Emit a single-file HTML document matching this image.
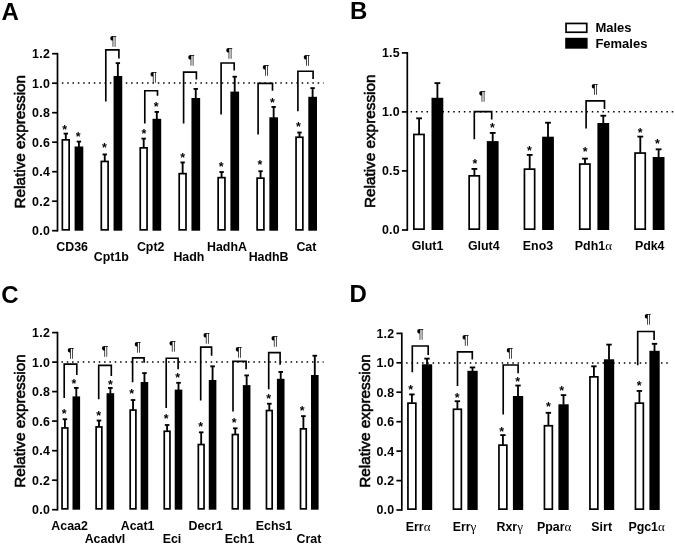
<!DOCTYPE html>
<html lang="en">
<head>
<meta charset="utf-8">
<title>Relative expression</title>
<style>
html,body{margin:0;padding:0;background:#fff;}
body{width:675px;height:546px;overflow:hidden;}
svg{display:block;font-family:"Liberation Sans", Arial, Helvetica, sans-serif;fill:#000;}
</style>
</head>
<body>
<svg width="675" height="546" viewBox="0 0 675 546">
<rect x="0" y="0" width="675" height="546" fill="#fff"/>
<text x="1.6" y="19.6" font-size="24" font-weight="bold" text-anchor="start" >A</text>
<text transform="translate(25.4 141.7) rotate(-90)" font-size="15.3" font-weight="normal" text-anchor="middle" stroke="#000" stroke-width="0.6" stroke-linejoin="round">Relative expression</text>
<line x1="61.85" y1="83.1" x2="323.6" y2="83.1" stroke="#000" stroke-width="1.5" stroke-dasharray="1.5 3.83"/>
<line x1="65.8" y1="133.62" x2="65.8" y2="139.5" stroke="#000" stroke-width="1.85" />
<line x1="63.6" y1="133.62" x2="68" y2="133.62" stroke="#000" stroke-width="1.85" />
<rect x="62.35" y="139.85" width="6.8" height="90" fill="#fff" stroke="#000" stroke-width="1.7"/>
<line x1="78.9" y1="141.62" x2="78.9" y2="147" stroke="#000" stroke-width="1.85" />
<line x1="76.7" y1="141.62" x2="81.1" y2="141.62" stroke="#000" stroke-width="1.85" />
<rect x="74.6" y="146.5" width="8.7" height="84.2" fill="#000"/>
<line x1="104.75" y1="154.43" x2="104.75" y2="161.1" stroke="#000" stroke-width="1.85" />
<line x1="102.55" y1="154.43" x2="106.95" y2="154.43" stroke="#000" stroke-width="1.85" />
<rect x="101.3" y="161.45" width="6.8" height="68.4" fill="#fff" stroke="#000" stroke-width="1.7"/>
<line x1="117.85" y1="63.12" x2="117.85" y2="76.5" stroke="#000" stroke-width="1.85" />
<line x1="115.65" y1="63.12" x2="120.05" y2="63.12" stroke="#000" stroke-width="1.85" />
<rect x="113.55" y="76" width="8.7" height="154.7" fill="#000"/>
<line x1="143.7" y1="138.62" x2="143.7" y2="147.5" stroke="#000" stroke-width="1.85" />
<line x1="141.5" y1="138.62" x2="145.9" y2="138.62" stroke="#000" stroke-width="1.85" />
<rect x="140.25" y="147.85" width="6.8" height="82" fill="#fff" stroke="#000" stroke-width="1.7"/>
<line x1="156.8" y1="111.92" x2="156.8" y2="119.3" stroke="#000" stroke-width="1.85" />
<line x1="154.6" y1="111.92" x2="159" y2="111.92" stroke="#000" stroke-width="1.85" />
<rect x="152.5" y="118.8" width="8.7" height="111.9" fill="#000"/>
<line x1="182.65" y1="162.43" x2="182.65" y2="173.3" stroke="#000" stroke-width="1.85" />
<line x1="180.45" y1="162.43" x2="184.85" y2="162.43" stroke="#000" stroke-width="1.85" />
<rect x="179.2" y="173.65" width="6.8" height="56.2" fill="#fff" stroke="#000" stroke-width="1.7"/>
<line x1="195.75" y1="88.92" x2="195.75" y2="98.5" stroke="#000" stroke-width="1.85" />
<line x1="193.55" y1="88.92" x2="197.95" y2="88.92" stroke="#000" stroke-width="1.85" />
<rect x="191.45" y="98" width="8.7" height="132.7" fill="#000"/>
<line x1="221.6" y1="172.03" x2="221.6" y2="177.3" stroke="#000" stroke-width="1.85" />
<line x1="219.4" y1="172.03" x2="223.8" y2="172.03" stroke="#000" stroke-width="1.85" />
<rect x="218.15" y="177.65" width="6.8" height="52.2" fill="#fff" stroke="#000" stroke-width="1.7"/>
<line x1="234.7" y1="76.72" x2="234.7" y2="92.1" stroke="#000" stroke-width="1.85" />
<line x1="232.5" y1="76.72" x2="236.9" y2="76.72" stroke="#000" stroke-width="1.85" />
<rect x="230.4" y="91.6" width="8.7" height="139.1" fill="#000"/>
<line x1="260.55" y1="171.23" x2="260.55" y2="177.8" stroke="#000" stroke-width="1.85" />
<line x1="258.35" y1="171.23" x2="262.75" y2="171.23" stroke="#000" stroke-width="1.85" />
<rect x="257.1" y="178.15" width="6.8" height="51.7" fill="#fff" stroke="#000" stroke-width="1.7"/>
<line x1="273.65" y1="106.92" x2="273.65" y2="117.8" stroke="#000" stroke-width="1.85" />
<line x1="271.45" y1="106.92" x2="275.85" y2="106.92" stroke="#000" stroke-width="1.85" />
<rect x="269.35" y="117.3" width="8.7" height="113.4" fill="#000"/>
<line x1="299.5" y1="132.53" x2="299.5" y2="136.9" stroke="#000" stroke-width="1.85" />
<line x1="297.3" y1="132.53" x2="301.7" y2="132.53" stroke="#000" stroke-width="1.85" />
<rect x="296.05" y="137.25" width="6.8" height="92.6" fill="#fff" stroke="#000" stroke-width="1.7"/>
<line x1="312.6" y1="88.12" x2="312.6" y2="97.3" stroke="#000" stroke-width="1.85" />
<line x1="310.4" y1="88.12" x2="314.8" y2="88.12" stroke="#000" stroke-width="1.85" />
<rect x="308.3" y="96.8" width="8.7" height="133.9" fill="#000"/>
<line x1="57.5" y1="52.85" x2="57.5" y2="231.55" stroke="#000" stroke-width="1.7" />
<line x1="52.1" y1="53.7" x2="57.5" y2="53.7" stroke="#000" stroke-width="1.7" />
<text x="50.1" y="58.1" font-size="12.4" font-weight="bold" text-anchor="end" letter-spacing="0.25">1.2</text>
<line x1="52.1" y1="83.2" x2="57.5" y2="83.2" stroke="#000" stroke-width="1.7" />
<text x="50.1" y="87.6" font-size="12.4" font-weight="bold" text-anchor="end" letter-spacing="0.25">1.0</text>
<line x1="52.1" y1="112.7" x2="57.5" y2="112.7" stroke="#000" stroke-width="1.7" />
<text x="50.1" y="117.1" font-size="12.4" font-weight="bold" text-anchor="end" letter-spacing="0.25">0.8</text>
<line x1="52.1" y1="142.2" x2="57.5" y2="142.2" stroke="#000" stroke-width="1.7" />
<text x="50.1" y="146.6" font-size="12.4" font-weight="bold" text-anchor="end" letter-spacing="0.25">0.6</text>
<line x1="52.1" y1="171.7" x2="57.5" y2="171.7" stroke="#000" stroke-width="1.7" />
<text x="50.1" y="176.1" font-size="12.4" font-weight="bold" text-anchor="end" letter-spacing="0.25">0.4</text>
<line x1="52.1" y1="201.2" x2="57.5" y2="201.2" stroke="#000" stroke-width="1.7" />
<text x="50.1" y="205.6" font-size="12.4" font-weight="bold" text-anchor="end" letter-spacing="0.25">0.2</text>
<line x1="52.1" y1="230.7" x2="57.5" y2="230.7" stroke="#000" stroke-width="1.7" />
<text x="50.1" y="235.1" font-size="12.4" font-weight="bold" text-anchor="end" letter-spacing="0.25">0.0</text>
<text x="64.7" y="134.4" font-size="12.4" font-weight="bold" text-anchor="middle" >*</text>
<text x="78.1" y="141.1" font-size="12.4" font-weight="bold" text-anchor="middle" >*</text>
<text x="104.5" y="152.3" font-size="12.4" font-weight="bold" text-anchor="middle" >*</text>
<text x="144" y="138.2" font-size="12.4" font-weight="bold" text-anchor="middle" >*</text>
<text x="156.1" y="111.2" font-size="12.4" font-weight="bold" text-anchor="middle" >*</text>
<text x="182.6" y="161.8" font-size="12.4" font-weight="bold" text-anchor="middle" >*</text>
<text x="221.1" y="171.1" font-size="12.4" font-weight="bold" text-anchor="middle" >*</text>
<text x="259.9" y="169.1" font-size="12.4" font-weight="bold" text-anchor="middle" >*</text>
<text x="272.5" y="107.1" font-size="12.4" font-weight="bold" text-anchor="middle" >*</text>
<text x="298.5" y="131.1" font-size="12.4" font-weight="bold" text-anchor="middle" >*</text>
<path d="M105.8 101.5V49.93H118.9V58.6" fill="none" stroke="#000" stroke-width="1.65" stroke-linejoin="miter"/>
<text x="113.3" y="44.7" font-size="13.2" font-weight="normal" text-anchor="middle" >¶</text>
<path d="M144.8 123.4V90.73H157.5V95.8" fill="none" stroke="#000" stroke-width="1.65" stroke-linejoin="miter"/>
<text x="153.6" y="81" font-size="13.2" font-weight="normal" text-anchor="middle" >¶</text>
<path d="M183.6 123.4V72.12H196.4V79.6" fill="none" stroke="#000" stroke-width="1.65" stroke-linejoin="miter"/>
<text x="191.4" y="64.3" font-size="13.2" font-weight="normal" text-anchor="middle" >¶</text>
<path d="M221.1 114.6V63.03H234.2V70.5" fill="none" stroke="#000" stroke-width="1.65" stroke-linejoin="miter"/>
<text x="229.2" y="56.5" font-size="13.2" font-weight="normal" text-anchor="middle" >¶</text>
<path d="M258.1 134.5V83.42H272.5V90.7" fill="none" stroke="#000" stroke-width="1.65" stroke-linejoin="miter"/>
<text x="265.7" y="74.3" font-size="13.2" font-weight="normal" text-anchor="middle" >¶</text>
<path d="M297.9 111.2V71.23H313.1V79" fill="none" stroke="#000" stroke-width="1.65" stroke-linejoin="miter"/>
<text x="306.8" y="63.7" font-size="13.2" font-weight="normal" text-anchor="middle" >¶</text>
<text x="72.1" y="250.6" font-size="12.4" font-weight="bold" text-anchor="middle" >CD36</text>
<text x="111.3" y="261" font-size="12.4" font-weight="bold" text-anchor="middle" >Cpt1b</text>
<text x="150.7" y="250.6" font-size="12.4" font-weight="bold" text-anchor="middle" >Cpt2</text>
<text x="188.9" y="261" font-size="12.4" font-weight="bold" text-anchor="middle" >Hadh</text>
<text x="227" y="250.6" font-size="12.4" font-weight="bold" text-anchor="middle" >HadhA</text>
<text x="268.6" y="261" font-size="12.4" font-weight="bold" text-anchor="middle" >HadhB</text>
<text x="306.4" y="250.6" font-size="12.4" font-weight="bold" text-anchor="middle" >Cat</text>
<text x="350.1" y="19.4" font-size="24" font-weight="bold" text-anchor="start" >B</text>
<text transform="translate(375.3 141.3) rotate(-90)" font-size="15.3" font-weight="normal" text-anchor="middle" stroke="#000" stroke-width="0.6" stroke-linejoin="round">Relative expression</text>
<line x1="410.55" y1="111.8" x2="675" y2="111.8" stroke="#000" stroke-width="1.5" stroke-dasharray="1.5 3.83"/>
<line x1="419.1" y1="118.33" x2="419.1" y2="134.1" stroke="#000" stroke-width="1.85" />
<line x1="416.2" y1="118.33" x2="422" y2="118.33" stroke="#000" stroke-width="1.85" />
<rect x="413.85" y="134.45" width="10.2" height="94.7" fill="#fff" stroke="#000" stroke-width="1.7"/>
<line x1="437.4" y1="83.12" x2="437.4" y2="98.3" stroke="#000" stroke-width="1.85" />
<line x1="434.5" y1="83.12" x2="440.3" y2="83.12" stroke="#000" stroke-width="1.85" />
<rect x="431.5" y="97.8" width="11.8" height="132.2" fill="#000"/>
<line x1="474.4" y1="168.93" x2="474.4" y2="175.5" stroke="#000" stroke-width="1.85" />
<line x1="471.5" y1="168.93" x2="477.3" y2="168.93" stroke="#000" stroke-width="1.85" />
<rect x="469.15" y="175.85" width="10.2" height="53.3" fill="#fff" stroke="#000" stroke-width="1.7"/>
<line x1="492.7" y1="132.93" x2="492.7" y2="141.6" stroke="#000" stroke-width="1.85" />
<line x1="489.8" y1="132.93" x2="495.6" y2="132.93" stroke="#000" stroke-width="1.85" />
<rect x="486.8" y="141.1" width="11.8" height="88.9" fill="#000"/>
<line x1="529.7" y1="154.93" x2="529.7" y2="168.8" stroke="#000" stroke-width="1.85" />
<line x1="526.8" y1="154.93" x2="532.6" y2="154.93" stroke="#000" stroke-width="1.85" />
<rect x="524.45" y="169.15" width="10.2" height="60" fill="#fff" stroke="#000" stroke-width="1.7"/>
<line x1="548" y1="122.72" x2="548" y2="137.2" stroke="#000" stroke-width="1.85" />
<line x1="545.1" y1="122.72" x2="550.9" y2="122.72" stroke="#000" stroke-width="1.85" />
<rect x="542.1" y="136.7" width="11.8" height="93.3" fill="#000"/>
<line x1="585" y1="158.62" x2="585" y2="163.7" stroke="#000" stroke-width="1.85" />
<line x1="582.1" y1="158.62" x2="587.9" y2="158.62" stroke="#000" stroke-width="1.85" />
<rect x="579.75" y="164.05" width="10.2" height="65.1" fill="#fff" stroke="#000" stroke-width="1.7"/>
<line x1="603.3" y1="115.72" x2="603.3" y2="123.5" stroke="#000" stroke-width="1.85" />
<line x1="600.4" y1="115.72" x2="606.2" y2="115.72" stroke="#000" stroke-width="1.85" />
<rect x="597.4" y="123" width="11.8" height="107" fill="#000"/>
<line x1="640.3" y1="136.62" x2="640.3" y2="152.7" stroke="#000" stroke-width="1.85" />
<line x1="637.4" y1="136.62" x2="643.2" y2="136.62" stroke="#000" stroke-width="1.85" />
<rect x="635.05" y="153.05" width="10.2" height="76.1" fill="#fff" stroke="#000" stroke-width="1.7"/>
<line x1="658.6" y1="149.33" x2="658.6" y2="157.5" stroke="#000" stroke-width="1.85" />
<line x1="655.7" y1="149.33" x2="661.5" y2="149.33" stroke="#000" stroke-width="1.85" />
<rect x="652.7" y="157" width="11.8" height="73" fill="#000"/>
<line x1="407.3" y1="52.05" x2="407.3" y2="230.85" stroke="#000" stroke-width="1.7" />
<line x1="401.9" y1="52.9" x2="407.3" y2="52.9" stroke="#000" stroke-width="1.7" />
<text x="399.9" y="57.3" font-size="12.4" font-weight="bold" text-anchor="end" letter-spacing="0.25">1.5</text>
<line x1="401.9" y1="111.9" x2="407.3" y2="111.9" stroke="#000" stroke-width="1.7" />
<text x="399.9" y="116.3" font-size="12.4" font-weight="bold" text-anchor="end" letter-spacing="0.25">1.0</text>
<line x1="401.9" y1="170.9" x2="407.3" y2="170.9" stroke="#000" stroke-width="1.7" />
<text x="399.9" y="175.3" font-size="12.4" font-weight="bold" text-anchor="end" letter-spacing="0.25">0.5</text>
<line x1="401.9" y1="230" x2="407.3" y2="230" stroke="#000" stroke-width="1.7" />
<text x="399.9" y="234.4" font-size="12.4" font-weight="bold" text-anchor="end" letter-spacing="0.25">0.0</text>
<text x="474.8" y="168.1" font-size="12.4" font-weight="bold" text-anchor="middle" >*</text>
<text x="492.4" y="132.4" font-size="12.4" font-weight="bold" text-anchor="middle" >*</text>
<text x="529.4" y="154.8" font-size="12.4" font-weight="bold" text-anchor="middle" >*</text>
<text x="585.1" y="156" font-size="12.4" font-weight="bold" text-anchor="middle" >*</text>
<text x="640.2" y="136.8" font-size="12.4" font-weight="bold" text-anchor="middle" >*</text>
<text x="657.4" y="148.4" font-size="12.4" font-weight="bold" text-anchor="middle" >*</text>
<path d="M474.3 139.2V111.62H491.7V119.4" fill="none" stroke="#000" stroke-width="1.65" stroke-linejoin="miter"/>
<text x="482.3" y="99.7" font-size="13.2" font-weight="normal" text-anchor="middle" >¶</text>
<path d="M586.1 128.6V100.92H604.5V109" fill="none" stroke="#000" stroke-width="1.65" stroke-linejoin="miter"/>
<text x="594.9" y="92.6" font-size="13.2" font-weight="normal" text-anchor="middle" >¶</text>
<text x="427.5" y="250.4" font-size="12.4" font-weight="bold" text-anchor="middle" >Glut1</text>
<text x="483.8" y="250.4" font-size="12.4" font-weight="bold" text-anchor="middle" >Glut4</text>
<text x="538" y="250.4" font-size="12.4" font-weight="bold" text-anchor="middle" >Eno3</text>
<text x="593.4" y="250.4" font-size="12.4" font-weight="bold" text-anchor="middle" >Pdh1<tspan font-family="'Liberation Serif', 'DejaVu Serif', serif" font-weight="normal" font-size="13">α</tspan></text>
<text x="649.7" y="250.4" font-size="12.4" font-weight="bold" text-anchor="middle" >Pdk4</text>
<rect x="566.05" y="23.45" width="20.7" height="8.8" fill="#fff" stroke="#000" stroke-width="1.7"/>
<rect x="565.2" y="37.8" width="22.4" height="10.9" fill="#000"/>
<text x="595.4" y="32.3" font-size="13" font-weight="bold" text-anchor="start" >Males</text>
<text x="595.4" y="48" font-size="13" font-weight="bold" text-anchor="start" >Females</text>
<text x="1.2" y="302.7" font-size="24" font-weight="bold" text-anchor="start" >C</text>
<text transform="translate(25.4 421) rotate(-90)" font-size="15.3" font-weight="normal" text-anchor="middle" stroke="#000" stroke-width="0.6" stroke-linejoin="round">Relative expression</text>
<line x1="61.45" y1="362" x2="323.6" y2="362" stroke="#000" stroke-width="1.5" stroke-dasharray="1.5 3.83"/>
<line x1="64.9" y1="419.23" x2="64.9" y2="427.6" stroke="#000" stroke-width="1.85" />
<line x1="62.6" y1="419.23" x2="67.2" y2="419.23" stroke="#000" stroke-width="1.85" />
<rect x="62.05" y="427.95" width="5.7" height="80.9" fill="#fff" stroke="#000" stroke-width="1.7"/>
<line x1="76.3" y1="387.93" x2="76.3" y2="396.9" stroke="#000" stroke-width="1.85" />
<line x1="74" y1="387.93" x2="78.6" y2="387.93" stroke="#000" stroke-width="1.85" />
<rect x="72.5" y="396.4" width="7.6" height="113.3" fill="#000"/>
<line x1="98.97" y1="420.53" x2="98.97" y2="426.6" stroke="#000" stroke-width="1.85" />
<line x1="96.67" y1="420.53" x2="101.27" y2="420.53" stroke="#000" stroke-width="1.85" />
<rect x="96.12" y="426.95" width="5.7" height="81.9" fill="#fff" stroke="#000" stroke-width="1.7"/>
<line x1="110.37" y1="387.93" x2="110.37" y2="393.7" stroke="#000" stroke-width="1.85" />
<line x1="108.07" y1="387.93" x2="112.67" y2="387.93" stroke="#000" stroke-width="1.85" />
<rect x="106.57" y="393.2" width="7.6" height="116.5" fill="#000"/>
<line x1="133.04" y1="400.03" x2="133.04" y2="409.7" stroke="#000" stroke-width="1.85" />
<line x1="130.74" y1="400.03" x2="135.34" y2="400.03" stroke="#000" stroke-width="1.85" />
<rect x="130.19" y="410.05" width="5.7" height="98.8" fill="#fff" stroke="#000" stroke-width="1.7"/>
<line x1="144.44" y1="373.12" x2="144.44" y2="382.5" stroke="#000" stroke-width="1.85" />
<line x1="142.14" y1="373.12" x2="146.74" y2="373.12" stroke="#000" stroke-width="1.85" />
<rect x="140.64" y="382" width="7.6" height="127.7" fill="#000"/>
<line x1="167.11" y1="425.03" x2="167.11" y2="430.9" stroke="#000" stroke-width="1.85" />
<line x1="164.81" y1="425.03" x2="169.41" y2="425.03" stroke="#000" stroke-width="1.85" />
<rect x="164.26" y="431.25" width="5.7" height="77.6" fill="#fff" stroke="#000" stroke-width="1.7"/>
<line x1="178.51" y1="382.82" x2="178.51" y2="390.1" stroke="#000" stroke-width="1.85" />
<line x1="176.21" y1="382.82" x2="180.81" y2="382.82" stroke="#000" stroke-width="1.85" />
<rect x="174.71" y="389.6" width="7.6" height="120.1" fill="#000"/>
<line x1="201.18" y1="432.32" x2="201.18" y2="444.2" stroke="#000" stroke-width="1.85" />
<line x1="198.88" y1="432.32" x2="203.48" y2="432.32" stroke="#000" stroke-width="1.85" />
<rect x="198.33" y="444.55" width="5.7" height="64.3" fill="#fff" stroke="#000" stroke-width="1.7"/>
<line x1="212.58" y1="366.32" x2="212.58" y2="380.5" stroke="#000" stroke-width="1.85" />
<line x1="210.28" y1="366.32" x2="214.88" y2="366.32" stroke="#000" stroke-width="1.85" />
<rect x="208.78" y="380" width="7.6" height="129.7" fill="#000"/>
<line x1="235.25" y1="428.32" x2="235.25" y2="434.2" stroke="#000" stroke-width="1.85" />
<line x1="232.95" y1="428.32" x2="237.55" y2="428.32" stroke="#000" stroke-width="1.85" />
<rect x="232.4" y="434.55" width="5.7" height="74.3" fill="#fff" stroke="#000" stroke-width="1.7"/>
<line x1="246.65" y1="375.43" x2="246.65" y2="385.6" stroke="#000" stroke-width="1.85" />
<line x1="244.35" y1="375.43" x2="248.95" y2="375.43" stroke="#000" stroke-width="1.85" />
<rect x="242.85" y="385.1" width="7.6" height="124.6" fill="#000"/>
<line x1="269.32" y1="403.73" x2="269.32" y2="410.2" stroke="#000" stroke-width="1.85" />
<line x1="267.02" y1="403.73" x2="271.62" y2="403.73" stroke="#000" stroke-width="1.85" />
<rect x="266.47" y="410.55" width="5.7" height="98.3" fill="#fff" stroke="#000" stroke-width="1.7"/>
<line x1="280.72" y1="371.93" x2="280.72" y2="379.3" stroke="#000" stroke-width="1.85" />
<line x1="278.42" y1="371.93" x2="283.02" y2="371.93" stroke="#000" stroke-width="1.85" />
<rect x="276.92" y="378.8" width="7.6" height="130.9" fill="#000"/>
<line x1="303.39" y1="416.12" x2="303.39" y2="428.5" stroke="#000" stroke-width="1.85" />
<line x1="301.09" y1="416.12" x2="305.69" y2="416.12" stroke="#000" stroke-width="1.85" />
<rect x="300.54" y="428.85" width="5.7" height="80" fill="#fff" stroke="#000" stroke-width="1.7"/>
<line x1="314.79" y1="355.73" x2="314.79" y2="375.5" stroke="#000" stroke-width="1.85" />
<line x1="312.49" y1="355.73" x2="317.09" y2="355.73" stroke="#000" stroke-width="1.85" />
<rect x="310.99" y="375" width="7.6" height="134.7" fill="#000"/>
<line x1="57.5" y1="331.75" x2="57.5" y2="510.55" stroke="#000" stroke-width="1.7" />
<line x1="52.1" y1="332.6" x2="57.5" y2="332.6" stroke="#000" stroke-width="1.7" />
<text x="50.1" y="337" font-size="12.4" font-weight="bold" text-anchor="end" letter-spacing="0.25">1.2</text>
<line x1="52.1" y1="362.1" x2="57.5" y2="362.1" stroke="#000" stroke-width="1.7" />
<text x="50.1" y="366.5" font-size="12.4" font-weight="bold" text-anchor="end" letter-spacing="0.25">1.0</text>
<line x1="52.1" y1="391.6" x2="57.5" y2="391.6" stroke="#000" stroke-width="1.7" />
<text x="50.1" y="396" font-size="12.4" font-weight="bold" text-anchor="end" letter-spacing="0.25">0.8</text>
<line x1="52.1" y1="421.1" x2="57.5" y2="421.1" stroke="#000" stroke-width="1.7" />
<text x="50.1" y="425.5" font-size="12.4" font-weight="bold" text-anchor="end" letter-spacing="0.25">0.6</text>
<line x1="52.1" y1="450.7" x2="57.5" y2="450.7" stroke="#000" stroke-width="1.7" />
<text x="50.1" y="455.1" font-size="12.4" font-weight="bold" text-anchor="end" letter-spacing="0.25">0.4</text>
<line x1="52.1" y1="480.2" x2="57.5" y2="480.2" stroke="#000" stroke-width="1.7" />
<text x="50.1" y="484.6" font-size="12.4" font-weight="bold" text-anchor="end" letter-spacing="0.25">0.2</text>
<line x1="52.1" y1="509.7" x2="57.5" y2="509.7" stroke="#000" stroke-width="1.7" />
<text x="50.1" y="514.1" font-size="12.4" font-weight="bold" text-anchor="end" letter-spacing="0.25">0.0</text>
<text x="64.2" y="418.2" font-size="12.4" font-weight="bold" text-anchor="middle" >*</text>
<text x="74" y="387.6" font-size="12.4" font-weight="bold" text-anchor="middle" >*</text>
<text x="98.7" y="419.9" font-size="12.4" font-weight="bold" text-anchor="middle" >*</text>
<text x="110.3" y="388.9" font-size="12.4" font-weight="bold" text-anchor="middle" >*</text>
<text x="131.7" y="398" font-size="12.4" font-weight="bold" text-anchor="middle" >*</text>
<text x="166.2" y="422.9" font-size="12.4" font-weight="bold" text-anchor="middle" >*</text>
<text x="177.6" y="382.1" font-size="12.4" font-weight="bold" text-anchor="middle" >*</text>
<text x="200.7" y="431.3" font-size="12.4" font-weight="bold" text-anchor="middle" >*</text>
<text x="234.2" y="427" font-size="12.4" font-weight="bold" text-anchor="middle" >*</text>
<text x="268.7" y="403" font-size="12.4" font-weight="bold" text-anchor="middle" >*</text>
<text x="302.2" y="415.4" font-size="12.4" font-weight="bold" text-anchor="middle" >*</text>
<path d="M64.2 398V364.12H76.8V375" fill="none" stroke="#000" stroke-width="1.65" stroke-linejoin="miter"/>
<text x="70.8" y="356.9" font-size="13.2" font-weight="normal" text-anchor="middle" >¶</text>
<path d="M98.7 399.2V365.32H111.3V375.9" fill="none" stroke="#000" stroke-width="1.65" stroke-linejoin="miter"/>
<text x="105" y="354.9" font-size="13.2" font-weight="normal" text-anchor="middle" >¶</text>
<path d="M132.6 382.3V357.82H144.1V362.7" fill="none" stroke="#000" stroke-width="1.65" stroke-linejoin="miter"/>
<text x="137.9" y="350.9" font-size="13.2" font-weight="normal" text-anchor="middle" >¶</text>
<path d="M166.2 408V358.22H178.1V369.3" fill="none" stroke="#000" stroke-width="1.65" stroke-linejoin="miter"/>
<text x="172.5" y="349.6" font-size="13.2" font-weight="normal" text-anchor="middle" >¶</text>
<path d="M200.7 400.4V347.12H211.6V355.8" fill="none" stroke="#000" stroke-width="1.65" stroke-linejoin="miter"/>
<text x="206.5" y="341.8" font-size="13.2" font-weight="normal" text-anchor="middle" >¶</text>
<path d="M233 411.4V361.32H246.1V369.3" fill="none" stroke="#000" stroke-width="1.65" stroke-linejoin="miter"/>
<text x="238.8" y="355.9" font-size="13.2" font-weight="normal" text-anchor="middle" >¶</text>
<path d="M268.7 389.2V352.62H280.1V364.7" fill="none" stroke="#000" stroke-width="1.65" stroke-linejoin="miter"/>
<text x="274.5" y="345.2" font-size="13.2" font-weight="normal" text-anchor="middle" >¶</text>
<text x="69.6" y="529.9" font-size="12.4" font-weight="bold" text-anchor="middle" >Acaa2</text>
<text x="105" y="542.5" font-size="12.4" font-weight="bold" text-anchor="middle" >Acadvl</text>
<text x="137.6" y="529.9" font-size="12.4" font-weight="bold" text-anchor="middle" >Acat1</text>
<text x="172" y="542.5" font-size="12.4" font-weight="bold" text-anchor="middle" >Eci</text>
<text x="205.7" y="529.9" font-size="12.4" font-weight="bold" text-anchor="middle" >Decr1</text>
<text x="239.5" y="542.5" font-size="12.4" font-weight="bold" text-anchor="middle" >Ech1</text>
<text x="274" y="529.9" font-size="12.4" font-weight="bold" text-anchor="middle" >Echs1</text>
<text x="308.9" y="542.5" font-size="12.4" font-weight="bold" text-anchor="middle" >Crat</text>
<text x="349.6" y="302.2" font-size="24" font-weight="bold" text-anchor="start" >D</text>
<text transform="translate(369.5 421) rotate(-90)" font-size="15.3" font-weight="normal" text-anchor="middle" stroke="#000" stroke-width="0.6" stroke-linejoin="round">Relative expression</text>
<line x1="406.1" y1="363.1" x2="669.5" y2="363.1" stroke="#000" stroke-width="1.5" stroke-dasharray="1.5 3.81"/>
<line x1="411.9" y1="394.43" x2="411.9" y2="402.8" stroke="#000" stroke-width="1.85" />
<line x1="409.2" y1="394.43" x2="414.6" y2="394.43" stroke="#000" stroke-width="1.85" />
<rect x="407.95" y="403.15" width="7.9" height="106" fill="#fff" stroke="#000" stroke-width="1.7"/>
<line x1="427" y1="358.62" x2="427" y2="364.8" stroke="#000" stroke-width="1.85" />
<line x1="424.3" y1="358.62" x2="429.7" y2="358.62" stroke="#000" stroke-width="1.85" />
<rect x="421.9" y="364.3" width="10.3" height="145.7" fill="#000"/>
<line x1="457.4" y1="401.23" x2="457.4" y2="408.9" stroke="#000" stroke-width="1.85" />
<line x1="454.7" y1="401.23" x2="460.1" y2="401.23" stroke="#000" stroke-width="1.85" />
<rect x="453.45" y="409.25" width="7.9" height="99.9" fill="#fff" stroke="#000" stroke-width="1.7"/>
<line x1="472.5" y1="367.43" x2="472.5" y2="371.3" stroke="#000" stroke-width="1.85" />
<line x1="469.8" y1="367.43" x2="475.2" y2="367.43" stroke="#000" stroke-width="1.85" />
<rect x="467.4" y="370.8" width="10.3" height="139.2" fill="#000"/>
<line x1="502.9" y1="435.12" x2="502.9" y2="444.8" stroke="#000" stroke-width="1.85" />
<line x1="500.2" y1="435.12" x2="505.6" y2="435.12" stroke="#000" stroke-width="1.85" />
<rect x="498.95" y="445.15" width="7.9" height="64" fill="#fff" stroke="#000" stroke-width="1.7"/>
<line x1="518" y1="385.53" x2="518" y2="396.5" stroke="#000" stroke-width="1.85" />
<line x1="515.3" y1="385.53" x2="520.7" y2="385.53" stroke="#000" stroke-width="1.85" />
<rect x="512.9" y="396" width="10.3" height="114" fill="#000"/>
<line x1="548.4" y1="412.82" x2="548.4" y2="425.4" stroke="#000" stroke-width="1.85" />
<line x1="545.7" y1="412.82" x2="551.1" y2="412.82" stroke="#000" stroke-width="1.85" />
<rect x="544.45" y="425.75" width="7.9" height="83.4" fill="#fff" stroke="#000" stroke-width="1.7"/>
<line x1="563.5" y1="395.12" x2="563.5" y2="404.8" stroke="#000" stroke-width="1.85" />
<line x1="560.8" y1="395.12" x2="566.2" y2="395.12" stroke="#000" stroke-width="1.85" />
<rect x="558.4" y="404.3" width="10.3" height="105.7" fill="#000"/>
<line x1="593.9" y1="366.32" x2="593.9" y2="376.5" stroke="#000" stroke-width="1.85" />
<line x1="591.2" y1="366.32" x2="596.6" y2="366.32" stroke="#000" stroke-width="1.85" />
<rect x="589.95" y="376.85" width="7.9" height="132.3" fill="#fff" stroke="#000" stroke-width="1.7"/>
<line x1="609" y1="344.62" x2="609" y2="359.8" stroke="#000" stroke-width="1.85" />
<line x1="606.3" y1="344.62" x2="611.7" y2="344.62" stroke="#000" stroke-width="1.85" />
<rect x="603.9" y="359.3" width="10.3" height="150.7" fill="#000"/>
<line x1="639.4" y1="390.93" x2="639.4" y2="402.8" stroke="#000" stroke-width="1.85" />
<line x1="636.7" y1="390.93" x2="642.1" y2="390.93" stroke="#000" stroke-width="1.85" />
<rect x="635.45" y="403.15" width="7.9" height="106" fill="#fff" stroke="#000" stroke-width="1.7"/>
<line x1="654.5" y1="343.82" x2="654.5" y2="351.3" stroke="#000" stroke-width="1.85" />
<line x1="651.8" y1="343.82" x2="657.2" y2="343.82" stroke="#000" stroke-width="1.85" />
<rect x="649.4" y="350.8" width="10.3" height="159.2" fill="#000"/>
<line x1="401.8" y1="332.55" x2="401.8" y2="510.85" stroke="#000" stroke-width="1.7" />
<line x1="396.4" y1="333.4" x2="401.8" y2="333.4" stroke="#000" stroke-width="1.7" />
<text x="394.4" y="337.8" font-size="12.4" font-weight="bold" text-anchor="end" letter-spacing="0.25">1.2</text>
<line x1="396.4" y1="362.8" x2="401.8" y2="362.8" stroke="#000" stroke-width="1.7" />
<text x="394.4" y="367.2" font-size="12.4" font-weight="bold" text-anchor="end" letter-spacing="0.25">1.0</text>
<line x1="396.4" y1="392.2" x2="401.8" y2="392.2" stroke="#000" stroke-width="1.7" />
<text x="394.4" y="396.6" font-size="12.4" font-weight="bold" text-anchor="end" letter-spacing="0.25">0.8</text>
<line x1="396.4" y1="421.7" x2="401.8" y2="421.7" stroke="#000" stroke-width="1.7" />
<text x="394.4" y="426.1" font-size="12.4" font-weight="bold" text-anchor="end" letter-spacing="0.25">0.6</text>
<line x1="396.4" y1="451.1" x2="401.8" y2="451.1" stroke="#000" stroke-width="1.7" />
<text x="394.4" y="455.5" font-size="12.4" font-weight="bold" text-anchor="end" letter-spacing="0.25">0.4</text>
<line x1="396.4" y1="480.6" x2="401.8" y2="480.6" stroke="#000" stroke-width="1.7" />
<text x="394.4" y="485" font-size="12.4" font-weight="bold" text-anchor="end" letter-spacing="0.25">0.2</text>
<line x1="396.4" y1="510" x2="401.8" y2="510" stroke="#000" stroke-width="1.7" />
<text x="394.4" y="514.4" font-size="12.4" font-weight="bold" text-anchor="end" letter-spacing="0.25">0.0</text>
<text x="410.6" y="394.2" font-size="12.4" font-weight="bold" text-anchor="middle" >*</text>
<text x="457.1" y="401.8" font-size="12.4" font-weight="bold" text-anchor="middle" >*</text>
<text x="501.6" y="435.6" font-size="12.4" font-weight="bold" text-anchor="middle" >*</text>
<text x="517.6" y="385.9" font-size="12.4" font-weight="bold" text-anchor="middle" >*</text>
<text x="548.3" y="411.1" font-size="12.4" font-weight="bold" text-anchor="middle" >*</text>
<text x="561.7" y="394.7" font-size="12.4" font-weight="bold" text-anchor="middle" >*</text>
<text x="639.2" y="389.7" font-size="12.4" font-weight="bold" text-anchor="middle" >*</text>
<path d="M412.3 372.3V346.02H428.2V354.9" fill="none" stroke="#000" stroke-width="1.65" stroke-linejoin="miter"/>
<text x="420.2" y="337.9" font-size="13.2" font-weight="normal" text-anchor="middle" >¶</text>
<path d="M457.5 386.1V351.82H472.3V359.6" fill="none" stroke="#000" stroke-width="1.65" stroke-linejoin="miter"/>
<text x="465.5" y="344.2" font-size="13.2" font-weight="normal" text-anchor="middle" >¶</text>
<path d="M503.2 414.4V365.02H518.1V373.3" fill="none" stroke="#000" stroke-width="1.65" stroke-linejoin="miter"/>
<text x="509.7" y="357.4" font-size="13.2" font-weight="normal" text-anchor="middle" >¶</text>
<path d="M637.7 365.2V331.52H654.1V339.9" fill="none" stroke="#000" stroke-width="1.65" stroke-linejoin="miter"/>
<text x="647.8" y="322.9" font-size="13.2" font-weight="normal" text-anchor="middle" >¶</text>
<text x="418.1" y="531" font-size="12.4" font-weight="bold" text-anchor="middle" >Err<tspan font-family="'Liberation Serif', 'DejaVu Serif', serif" font-weight="normal" font-size="13">α</tspan></text>
<text x="464.5" y="531" font-size="12.4" font-weight="bold" text-anchor="middle" >Err<tspan font-family="'Liberation Serif', 'DejaVu Serif', serif" font-weight="normal" font-size="13">γ</tspan></text>
<text x="509.7" y="531" font-size="12.4" font-weight="bold" text-anchor="middle" >Rxr<tspan font-family="'Liberation Serif', 'DejaVu Serif', serif" font-weight="normal" font-size="13">γ</tspan></text>
<text x="554.1" y="531" font-size="12.4" font-weight="bold" text-anchor="middle" >Ppar<tspan font-family="'Liberation Serif', 'DejaVu Serif', serif" font-weight="normal" font-size="13">α</tspan></text>
<text x="601.7" y="531" font-size="12.4" font-weight="bold" text-anchor="middle" >Sirt</text>
<text x="646.6" y="531" font-size="12.4" font-weight="bold" text-anchor="middle" >Pgc1<tspan font-family="'Liberation Serif', 'DejaVu Serif', serif" font-weight="normal" font-size="13">α</tspan></text>
</svg>
</body>
</html>
